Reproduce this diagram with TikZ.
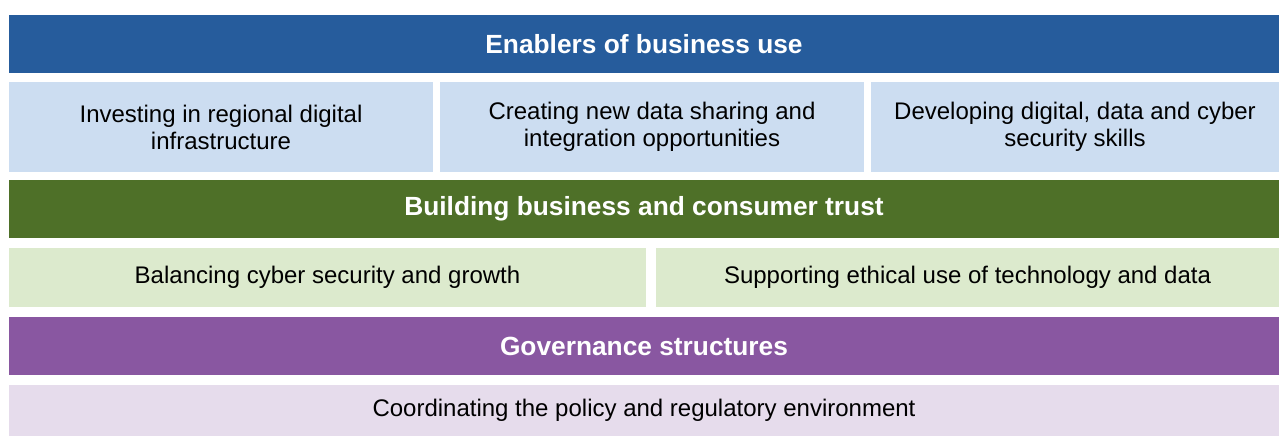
\documentclass[tikz,border=0pt]{standalone}
\usepackage{fontspec}
\setmainfont{Liberation Sans}
\definecolor{hblue}{HTML}{265C9C}
\definecolor{lblue}{HTML}{CCDDF1}
\definecolor{hgreen}{HTML}{4E7028}
\definecolor{lgreen}{HTML}{DCEACD}
\definecolor{hpurple}{HTML}{8957A1}
\definecolor{lpurple}{HTML}{E6DCEC}
\begin{document}
\begin{tikzpicture}[x=1pt,y=-1pt,
  cell/.style={inner sep=0pt, align=center, font=\fontsize{24}{27}\selectfont, text=black},
  head/.style={cell, text=white, font=\fontsize{26.3}{27}\selectfont\bfseries}]
\useasboundingbox (0,0) rectangle (1279,436);
\node[head, fill=hblue, minimum width=1270pt, minimum height=58pt] (blue) at (644,44) {Enablers of business use};
\node[cell, fill=lblue, minimum width=424pt, minimum height=90pt] (lb1) at (221,127) {Investing in regional digital\\infrastructure};
\node[cell, fill=lblue, minimum width=424pt, minimum height=90pt] (lb2) at (652,127) {Creating new data sharing and\\integration opportunities};
\node[cell, fill=lblue, minimum width=408pt, minimum height=90pt] (lb3) at (1075,127) {Developing digital, data and cyber\\security skills};
\node[head, fill=hgreen, minimum width=1270pt, minimum height=58pt] (green) at (644,209) {Building business and consumer trust};
\node[cell, fill=lgreen, minimum width=637pt, minimum height=59pt] (lg1) at (327.5,277.5) {Balancing cyber security and growth};
\node[cell, fill=lgreen, minimum width=623pt, minimum height=59pt] (lg2) at (967.5,277.5) {Supporting ethical use of technology and data};
\node[head, fill=hpurple, minimum width=1270pt, minimum height=58pt] (purple) at (644,346) {Governance structures};
\node[cell, fill=lpurple, minimum width=1270pt, minimum height=51pt] (lav) at (644,410.5) {Coordinating the policy and regulatory environment};
\end{tikzpicture}
\end{document}
